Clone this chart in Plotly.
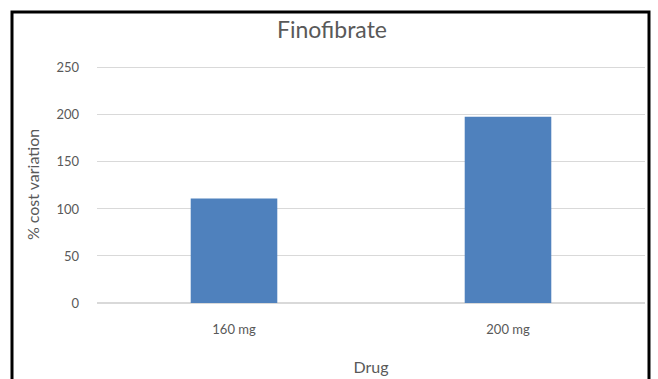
import plotly.graph_objects as go

categories = ["160 mg", "200 mg"]
values = [111, 198]
y_ticks = [0, 50, 100, 150, 200, 250]

L, R, T, B = 97, 13, 66, 76
W, H = 658, 379
pw, ph = W - L - R, H - T - B

def px_x(x):
    return (x - L) / pw

def px_y(y):
    return (H - B - y) / ph

fig = go.Figure(go.Bar(
    x=categories, y=values, marker_color="#4F81BD",
    marker_line_width=0, width=0.316,
))

fig.update_layout(
    width=W, height=H,
    margin=dict(l=L, r=R, t=T, b=B, autoexpand=False),
    paper_bgcolor="white", plot_bgcolor="white",
    font=dict(family="Lato, Open Sans, sans-serif", color="#595959", size=11),
    title=dict(text="Finofibrate", x=332 / W, xanchor="center",
               y=1 - 30 / H, yanchor="middle",
               font=dict(size=23, color="#595959")),
    showlegend=False,
    xaxis=dict(showgrid=False, showline=False, ticks="", tickfont=dict(size=13),
               ticklabelstandoff=17, automargin=False,
               title=dict(text="Drug", font=dict(size=16), standoff=25)),
    yaxis=dict(range=[0, 252], tickvals=y_ticks, gridcolor="#D9D9D9", gridwidth=1,
               zeroline=True, zerolinecolor="#D9D9D9", showline=False, ticks="",
               ticklen=0, tickfont=dict(size=13), ticklabelstandoff=17,
               automargin=False,
               title=dict(text="% cost variation", font=dict(size=16), standoff=12)),
    shapes=[dict(type="rect", xref="paper", yref="paper",
                 x0=px_x(12), x1=px_x(649), y0=px_y(12), y1=px_y(392),
                 line=dict(color="black", width=3))],
)

fig.write_html("out.html", config={"displayModeBar": False},
               post_script="document.body.style.margin='0';")
